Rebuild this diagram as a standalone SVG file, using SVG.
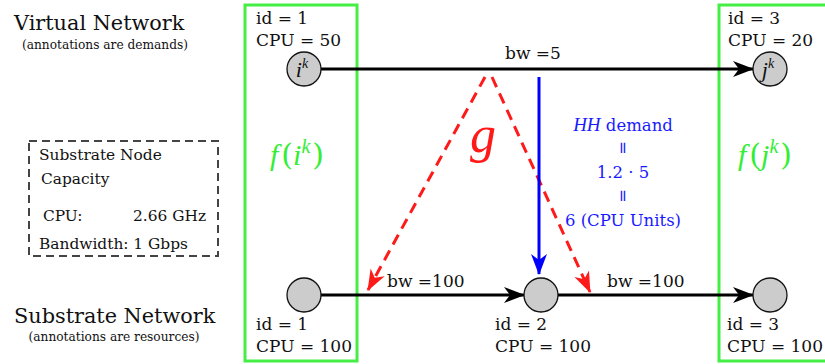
<svg xmlns="http://www.w3.org/2000/svg" width="825" height="364" viewBox="0 0 825 364">
<defs>
<style>
text{font-family:"DejaVu Serif","Liberation Serif",serif;fill:#111}
.lbl{font-size:17px}
.title{font-size:20.8px}
.sub{font-size:12.2px}
.cap{font-size:15.4px}
.node{fill:#cccccc;stroke:#111;stroke-width:1.3}
.green{fill:#33ee33;font-size:30px}
.blue{fill:#1a1aff;font-size:16.5px}
.it{font-family:"Liberation Serif","Times New Roman",serif;font-style:italic}
.edge{stroke:#000;stroke-width:3;fill:none}
.red{stroke:#ff1a1a;stroke-width:3;fill:none;stroke-dasharray:11 7}
.blu{stroke:#0000ff;stroke-width:3;fill:none}
.box{fill:none;stroke:#44ee44;stroke-width:3}
</style>
<marker id="ab" viewBox="-22 -10 24 20" refX="0" refY="0" markerWidth="24" markerHeight="20" markerUnits="userSpaceOnUse" orient="auto"><path d="M1,0 L-20,-8 L-14,0 L-20,8 Z" fill="#000"/></marker>
<marker id="ar" viewBox="-22 -10 24 20" refX="0" refY="0" markerWidth="24" markerHeight="20" markerUnits="userSpaceOnUse" orient="auto"><path d="M1,0 L-20,-8 L-14,0 L-20,8 Z" fill="#ff1a1a"/></marker>
<marker id="abl" viewBox="-22 -10 24 20" refX="0" refY="0" markerWidth="24" markerHeight="20" markerUnits="userSpaceOnUse" orient="auto"><path d="M1,0 L-20,-8 L-14,0 L-20,8 Z" fill="#0000ff"/></marker>
</defs>
<rect width="825" height="364" fill="#fff"/>

<g id="titles">
<text class="title" x="14" y="30">Virtual Network</text>
<text class="sub" x="105" y="49" text-anchor="middle">(annotations are demands)</text>
<text class="title" x="14" y="323">Substrate Network</text>
<text class="sub" x="114" y="341" text-anchor="middle">(annotations are resources)</text>
</g>

<g id="capacity">
<rect x="29" y="141" width="189" height="115" fill="none" stroke="#444" stroke-width="2" stroke-dasharray="8 5"/>
<text class="cap" x="39" y="160">Substrate Node</text>
<text class="cap" x="41" y="184">Capacity</text>
<text class="cap" x="43" y="221">CPU:</text>
<text class="cap" x="133" y="221">2.66 GHz</text>
<text class="cap" x="39" y="249">Bandwidth: 1 Gbps</text>
</g>

<g id="map-left">
<rect class="box" x="245" y="5" width="112" height="356"/>
<text class="green" x="270" y="165" style="fill:#33ee33"><tspan class="it">f</tspan><tspan dx="3">(</tspan><tspan class="it">i</tspan><tspan class="it" font-size="20" dy="-12">k</tspan><tspan dy="12" dx="2">)</tspan></text>
</g>
<g id="map-right">
<rect class="box" x="719" y="5" width="112" height="356"/>
<text class="green" x="738" y="165" style="fill:#33ee33"><tspan class="it">f</tspan><tspan dx="3">(</tspan><tspan class="it">j</tspan><tspan class="it" font-size="20" dy="-12">k</tspan><tspan dy="12" dx="2">)</tspan></text>
</g>

<g id="connectors">
<line class="edge" x1="321" y1="69" x2="753" y2="69" marker-end="url(#ab)"/>
<line class="edge" x1="321" y1="295" x2="524" y2="295" marker-end="url(#ab)"/>
<line class="edge" x1="558" y1="295" x2="753" y2="295" marker-end="url(#ab)"/>
<line class="red" x1="485" y1="77" x2="368" y2="290" marker-end="url(#ar)"/>
<line class="red" x1="492" y1="77" x2="590" y2="292" marker-end="url(#ar)"/>
<line class="blu" x1="539" y1="77" x2="539" y2="274" marker-end="url(#abl)"/>
<text class="lbl" x="505" y="59">bw =5</text>
<text class="lbl" x="387" y="287">bw =100</text>
<text class="lbl" x="607" y="287">bw =100</text>
<text class="it" x="483" y="152" font-size="52" text-anchor="middle" style="fill:#ff1a1a">g</text>
</g>

<g id="hh-demand">
<text class="blue" x="623" y="131" text-anchor="middle" style="fill:#1a1aff"><tspan class="it" font-size="19">HH</tspan> demand</text>
<text class="blue" x="0" y="0" text-anchor="middle" transform="translate(623,148) rotate(90)" style="fill:#1a1aff" dominant-baseline="central">=</text>
<text class="blue" x="623" y="178" text-anchor="middle" style="fill:#1a1aff">1.2 · 5</text>
<text class="blue" x="0" y="0" text-anchor="middle" transform="translate(623,196) rotate(90)" style="fill:#1a1aff" dominant-baseline="central">=</text>
<text class="blue" x="623" y="226" text-anchor="middle" style="fill:#1a1aff">6 (CPU Units)</text>
</g>

<g id="v-i">
<circle class="node" cx="304" cy="69" r="17"/>
<text class="it" x="302" y="77" font-size="22" text-anchor="middle">i<tspan font-size="14" dy="-9">k</tspan></text>
<text class="lbl" x="256" y="24">id = 1</text>
<text class="lbl" x="256" y="46">CPU = 50</text>
</g>
<g id="v-j">
<circle class="node" cx="770" cy="69" r="17"/>
<text class="it" x="768" y="77" font-size="22" text-anchor="middle">j<tspan font-size="14" dy="-9">k</tspan></text>
<text class="lbl" x="728" y="24">id = 3</text>
<text class="lbl" x="728" y="46">CPU = 20</text>
</g>
<g id="s-1">
<circle class="node" cx="304" cy="295" r="17"/>
<text class="lbl" x="256" y="330">id = 1</text>
<text class="lbl" x="256" y="352">CPU = 100</text>
</g>
<g id="s-2">
<circle class="node" cx="541" cy="295" r="17"/>
<text class="lbl" x="495" y="330">id = 2</text>
<text class="lbl" x="495" y="352">CPU = 100</text>
</g>
<g id="s-3">
<circle class="node" cx="770" cy="295" r="17"/>
<text class="lbl" x="727" y="330">id = 3</text>
<text class="lbl" x="727" y="352">CPU = 100</text>
</g>
</svg>
